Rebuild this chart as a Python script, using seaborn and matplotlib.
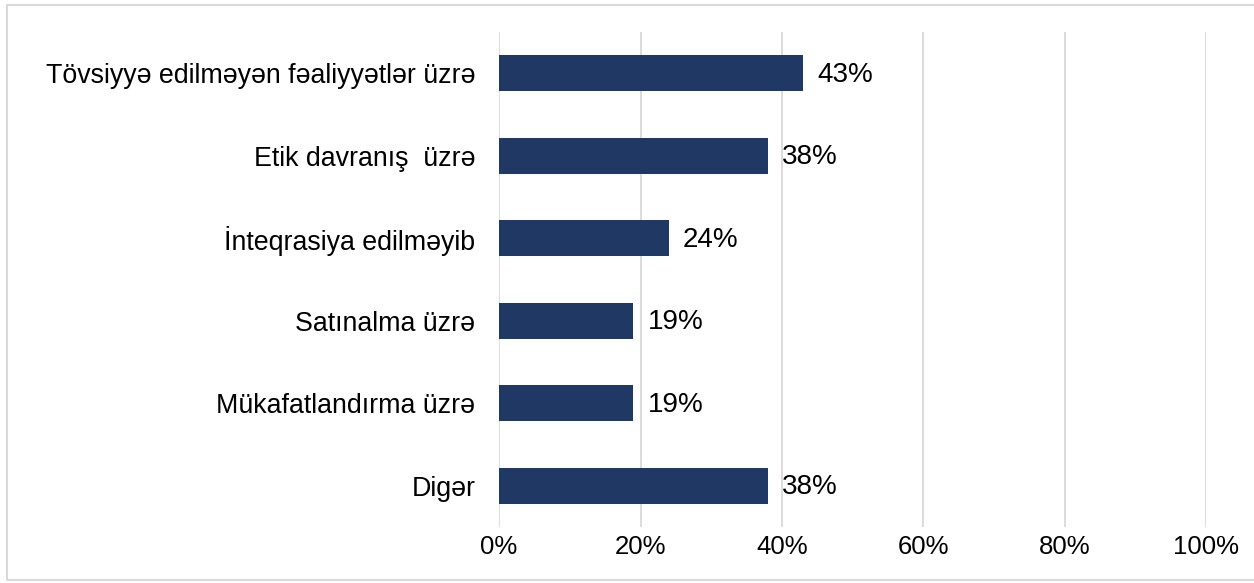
import matplotlib
matplotlib.use("Agg")
import matplotlib.pyplot as plt
import matplotlib.patches as mpatches
from matplotlib.ticker import PercentFormatter
import seaborn as sns
import pandas as pd

categories = [
    "Tövsiyyə edilməyən fəaliyyətlər üzrə",
    "Etik davranış  üzrə",
    "İnteqrasiya edilməyib",
    "Satınalma üzrə",
    "Mükafatlandırma üzrə",
    "Digər",
]
values = [43, 38, 24, 19, 19, 38]
x_ticks = [0, 20, 40, 60, 80, 100]

df = pd.DataFrame({"category": categories, "value": values})

sns.set_theme(style="white")
plt.rcParams["font.family"] = ["Liberation Sans", "DejaVu Sans"]

fig = plt.figure(figsize=(12.54, 5.83), dpi=100)
ax = fig.add_axes([0.398, 0.096, 0.564, 0.849])

sns.barplot(data=df, x="value", y="category", color="#203864",
            width=0.44, orient="h", ax=ax, saturation=1, linewidth=0)

ax.set_xlim(0, 100)
ax.set_ylim(5.5, -0.5)
ax.set_xticks(x_ticks)
ax.xaxis.set_major_formatter(PercentFormatter(decimals=0))
ax.grid(axis="x", color="#D9D9D9", linewidth=1.3)
ax.set_axisbelow(True)
for s in ax.spines.values():
    s.set_visible(False)
ax.tick_params(axis="y", length=0, pad=17, labelsize=19.3, labelcolor="black")
ax.tick_params(axis="x", length=0, pad=6, labelsize=18.5, labelcolor="black")
ax.set_xlabel("")
ax.set_ylabel("")

for i, v in enumerate(values):
    ax.text(v + 2.0, i + 0.02, f"{v}%", va="center", ha="left", fontsize=20, color="black")

border = mpatches.Rectangle((7 / 1254, 3 / 583), 1.0, 1 - 8 / 583,
                            transform=fig.transFigure, fill=False,
                            edgecolor="#D9D9D9", linewidth=1.5)
fig.patches.append(border)

fig.savefig("out.png", dpi=100)
